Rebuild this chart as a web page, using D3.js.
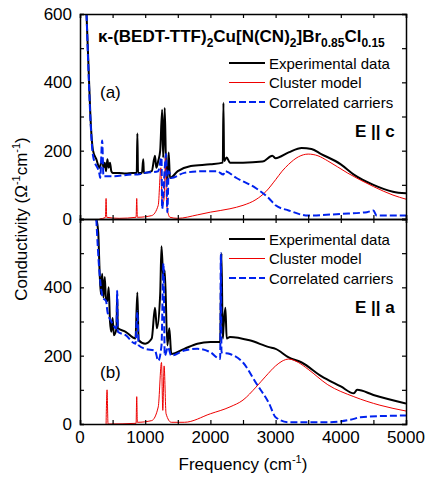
<!DOCTYPE html><html><head><meta charset="utf-8"><script src="https://d3js.org/d3.v7.min.js"></script>
<style>body{margin:0;background:#fff}text{font-family:Arial,"Liberation Sans",sans-serif}</style></head><body><svg id="c" width="436" height="483"></svg>
<script>
const xTicks=[0,1000,2000,3000,4000,5000];
const yTicks=[0,200,400,600];
const expA=[[100,600],[130,450],[160,300],[200,200],[250,175],[300,150],[340,175],[360,150],[380,165],[400,140],[420,175],[440,150],[460,165],[480,140],[500,135],[600,135],[700,133],[800,135],[870,135],[880,250],[890,135],[950,135],[970,175],[980,135],[1100,140],[1150,185],[1170,150],[1200,170],[1230,200],[1260,320],[1275,180],[1300,325],[1320,150],[1340,110],[1360,195],[1380,120],[1500,140],[1700,155],[2000,160],[2190,165],[2200,340],[2210,170],[2250,180],[2300,165],[2500,165],[2800,168],[2950,185],[3000,178],[3200,195],[3400,208],[3550,205],[3700,190],[4000,160],[4200,130],[4500,100],[4800,80],[5000,75]];
const corrA=[[100,600],[200,185],[300,130],[310,120],[340,230],[360,125],[500,125],[800,130],[880,130],[1000,135],[1200,140],[1250,180],[1260,30],[1300,150],[1320,190],[1340,20],[1360,140],[1400,120],[1600,135],[1900,140],[2100,140],[2200,130],[2220,140],[2400,120],[2700,90],[2900,60],[3000,40],[3200,25],[3500,10],[4000,15],[4400,20],[4500,25],[4550,10],[5000,10]];
const clusA=[[300,0],[390,5],[400,60],[410,5],[600,2],[860,5],[870,60],[880,5],[1100,10],[1200,40],[1240,150],[1260,40],[1290,60],[1310,180],[1330,40],[1380,5],[1500,2],[1800,12],[2000,20],[2300,30],[2500,40],[2700,57],[2850,80],[3000,115],[3100,140],[3200,160],[3350,182],[3500,190],[3650,185],[3800,170],[4100,135],[4500,95],[4800,70],[5000,58]];
const expB=[[250,600],[280,560],[300,450],[320,380],[340,440],[360,370],[380,430],[400,360],[420,360],[440,400],[460,300],[480,270],[500,310],[520,260],[560,280],[570,380],[580,280],[700,270],[850,250],[880,385],[900,245],[1000,235],[1100,250],[1150,340],[1180,280],[1230,380],[1250,520],[1280,420],[1300,450],[1340,230],[1370,280],[1400,205],[1600,220],[1800,235],[2000,240],[2150,240],[2170,500],[2190,250],[2200,280],[2230,340],[2250,250],[2300,255],[2600,245],[2900,225],[3000,220],[3200,195],[3400,180],[3700,140],[4000,110],[4200,90],[4250,100],[4500,85],[5000,60]];
const corrB=[[250,600],[300,440],[350,370],[400,360],[420,330],[480,300],[560,280],[570,390],[580,270],[700,260],[850,235],[880,330],[900,230],[1000,220],[1150,215],[1200,185],[1250,230],[1280,470],[1300,200],[1350,225],[1400,200],[1600,215],[1800,220],[2000,210],[2150,190],[2160,500],[2170,210],[2300,205],[2500,180],[2700,120],[2900,60],[3000,20],[3200,5],[3800,5],[4200,15],[4300,20],[5000,25]];
const clusB=[[400,0],[415,100],[430,0],[860,2],[870,80],[880,5],[1100,10],[1200,50],[1250,180],[1270,40],[1290,170],[1320,30],[1400,5],[1600,5],[2000,30],[2300,50],[2500,70],[2700,108],[2850,140],[3000,170],[3100,184],[3200,190],[3350,180],[3500,160],[3800,115],[4200,80],[4600,55],[5000,38]];
const legend=["Experimental data","Cluster model","Correlated carriers"];

const svg=d3.select("#c");
const x=d3.scaleLinear().domain([0,5000]).range([80,406]);
function panel(top,bottom,exp,corr,clus,pol,labY,showX){
  const y=d3.scaleLinear().domain([0,600]).range([bottom,top]);
  const g=svg.append("g");
  g.append("clipPath").attr("id","cp"+top).append("rect").attr("x",80).attr("y",top).attr("width",326).attr("height",bottom-top);
  const line=d3.line().curve(d3.curveMonotoneX).x(d=>x(d[0])).y(d=>y(d[1]));
  const p=g.append("g").attr("clip-path",`url(#cp${top})`);
  p.append("path").attr("d",line(exp)).attr("fill","none").attr("stroke","#000").attr("stroke-width",2);
  p.append("path").attr("d",line(clus)).attr("fill","none").attr("stroke","#e00").attr("stroke-width",1);
  p.append("path").attr("d",line(corr)).attr("fill","none").attr("stroke","#0022ee").attr("stroke-width",2).attr("stroke-dasharray","7,3");
  const ax=(a,tr)=>g.append("g").attr("transform",tr).call(a).call(s=>{s.select(".domain").attr("stroke-width",1.5);s.selectAll("text").remove();});
  ax(d3.axisBottom(x).tickValues(d3.range(0,5001,500)).tickSize(-4),`translate(0,${bottom})`);
  ax(d3.axisTop(x).tickValues(d3.range(0,5001,500)).tickSize(-4),`translate(0,${top})`);
  ax(d3.axisLeft(y).tickValues(d3.range(0,601,100)).tickSize(-4),`translate(80,0)`);
  ax(d3.axisRight(y).tickValues(d3.range(0,601,100)).tickSize(-4),`translate(406,0)`);
  g.selectAll(".tick line").attr("stroke-width",1.2);
  yTicks.forEach(v=>{ if(top>100 && v==600) return;
    g.append("text").attr("x",72).attr("y",y(v)+6).attr("text-anchor","end").attr("font-size",17).text(v);});
  if(showX) xTicks.forEach(v=>g.append("text").attr("x",x(v)).attr("y",bottom+19).attr("text-anchor","middle").attr("font-size",17).text(v));
  legend.forEach((t,i)=>{const ly=labY+i*19.5;
    const l=g.append("line").attr("x1",229).attr("x2",265).attr("y1",ly).attr("y2",ly);
    if(i==0) l.attr("stroke","#000").attr("stroke-width",2);
    if(i==1) l.attr("stroke","#e00").attr("stroke-width",1);
    if(i==2) l.attr("stroke","#0022ee").attr("stroke-width",2).attr("stroke-dasharray","7,3");
    g.append("text").attr("x",269).attr("y",ly+5.5).attr("font-size",15).text(t);});
  g.append("text").attr("x",355).attr("y",labY+74).attr("font-size",17).attr("font-weight","bold").text(pol);
}
panel(14,219,expA,corrA,clusA,"E || c",63,false);
panel(219,424,expB,corrB,clusB,"E || a",239,true);
svg.append("text").attr("x",100).attr("y",98).attr("font-size",17).text("(a)");
svg.append("text").attr("x",100).attr("y",378).attr("font-size",17).text("(b)");
const t=svg.append("text").attr("x",98).attr("y",42).attr("font-size",17).attr("font-weight","bold");
t.append("tspan").text("κ-(BEDT-TTF)");
t.append("tspan").attr("font-size",12).attr("dy",5).text("2");
t.append("tspan").attr("dy",-5).text("Cu[N(CN)");
t.append("tspan").attr("font-size",12).attr("dy",5).text("2");
t.append("tspan").attr("dy",-5).text("]Br");
t.append("tspan").attr("font-size",12).attr("dy",5).text("0.85");
t.append("tspan").attr("dy",-5).text("Cl");
t.append("tspan").attr("font-size",12).attr("dy",5).text("0.15");
const xl=svg.append("text").attr("x",243).attr("y",470).attr("text-anchor","middle").attr("font-size",17);
xl.append("tspan").text("Frequency (cm");xl.append("tspan").attr("font-size",11).attr("dy",-7).text("-1");xl.append("tspan").attr("dy",7).text(")");
const yl=svg.append("text").attr("transform","translate(27,219) rotate(-90)").attr("text-anchor","middle").attr("font-size",17);
yl.append("tspan").text("Conductivity (Ω");yl.append("tspan").attr("font-size",11).attr("dy",-7).text("-1");
yl.append("tspan").attr("dy",7).text("cm");yl.append("tspan").attr("font-size",11).attr("dy",-7).text("-1");yl.append("tspan").attr("dy",7).text(")");
</script></body></html>
